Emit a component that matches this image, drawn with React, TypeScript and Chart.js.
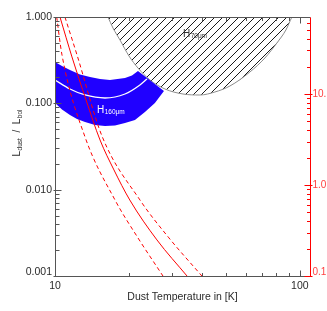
import React, { useEffect, useRef } from 'react';
import { Chart, registerables } from 'chart.js';

Chart.register(...registerables);

// ---------- axis ranges ----------
const tempMin = 10;
const tempMax = 110;
const ratioMin = 0.001;
const ratioMax = 1.0;
const rightMin = 0.1;
const rightMax = 70;

// ---------- ticks ----------
const tempMajor = [10, 100];
const tempMajorLabels = ['10', '100'];
const tempMinor = [20, 30, 40, 50, 60, 70, 80, 90];
const ratioMajor = [0.001, 0.01, 0.1, 1.0];
const ratioMajorLabels = ['0.001', '0.010', '0.100', '1.000'];
const ratioMinor = [
  0.002, 0.003, 0.004, 0.005, 0.006, 0.007, 0.008, 0.009,
  0.02, 0.03, 0.04, 0.05, 0.06, 0.07, 0.08, 0.09,
  0.2, 0.3, 0.4, 0.5, 0.6, 0.7, 0.8, 0.9,
];
const rightMajor = [0.1, 1, 10];
const rightMajorLabels = ['0.1', '1.0', '10.'];
const rightMinor = [0.2, 0.3, 0.4, 0.5, 0.6, 0.7, 0.8, 0.9, 2, 3, 4, 5, 6, 7, 8, 9, 20, 30, 40, 50, 60];

// ---------- red curves (right axis) ----------
const redMidT = [10.48, 11.73, 13.39, 15.27, 17.41, 20.2, 26.08, 34.6];
const redMidV = [70, 25.5, 8.59, 3.12, 1.462, 0.684, 0.249, 0.1];
const redLowT = [10.16, 10.68, 13.26, 17.58, 21.82, 27.6];
const redLowV = [70, 26.8, 3.37, 0.684, 0.262, 0.1];
const redHighT = [10.98, 12.3, 15.55, 22.23, 29.2, 39.8];
const redHighV = [70, 26.8, 3.455, 0.684, 0.262, 0.1];

// ---------- H160 band (left axis): upper edge, cut, lower edge back ----------
const bandT = [
  10, 10.68, 11.51, 12.65, 13.9, 15.27, 16.77, 19.31, 20.62, 21.82,
  27.86, 25.59, 23.3, 21.21, 19.31, 17.58, 16.0, 14.57, 13.26, 12.3, 11.51, 10.68, 10,
];
const bandV = [
  0.301, 0.2707, 0.2434, 0.2158, 0.2019, 0.1913, 0.1864, 0.1966, 0.2101, 0.2369,
  0.1389, 0.1009, 0.0794, 0.0641, 0.0592, 0.0554, 0.0546, 0.0561, 0.0608, 0.0658, 0.0733, 0.0848, 0.1009,
];
const bandCenterT = [10, 11.51, 13.26, 16.0, 19.31, 22.23, 23.74];
const bandCenterV = [0.1864, 0.1466, 0.1249, 0.1153, 0.1283, 0.1632, 0.1913];

// ---------- H70 hatched region lower boundary (left axis) ----------
const hatchT = [16.46, 17.25, 18.42, 20.05, 21.82, 24.42, 28.12, 33.31, 39.07, 44.99, 51.81, 62.51, 71.97, 80.57, 87.68, 92.75];
const hatchV = [1.0, 0.746, 0.542, 0.3535, 0.2567, 0.1864, 0.1466, 0.1283, 0.1249, 0.1353, 0.1588, 0.2307, 0.335, 0.5, 0.707, 1.0];

// ---------- annotation labels ----------
const annMain = ['H', 'H'];
const annSub = ['70μm', '160μm'];
const annT = [33.3, 14.84];
const annV = [0.587, 0.0773];
const annColor = ['#333333', '#ffffff'];

const FONT = '"Liberation Sans", Arial, Helvetica, sans-serif';
const AXIS_GRAY = '#555555';
const TEXT_GRAY = '#2a2a2a';
const RED = '#ff0000';
const RED_TEXT = '#ff4040';

const pts = (xs: number[], ys: number[]) => xs.map((x, i) => ({ x, y: ys[i] }));
const crisp = (v: number) => Math.round(v) + 0.5;

function makeHatch(): CanvasPattern | string {
  const c = document.createElement('canvas');
  c.width = 8;
  c.height = 8;
  const g = c.getContext('2d');
  if (!g) return 'rgba(0,0,0,0.2)';
  g.strokeStyle = '#1a1a1a';
  g.lineWidth = 1;
  g.beginPath();
  g.moveTo(0, 8);
  g.lineTo(8, 0);
  g.moveTo(-1, 1);
  g.lineTo(1, -1);
  g.moveTo(7, 9);
  g.lineTo(9, 7);
  g.stroke();
  return g.createPattern(c, 'repeat') || 'rgba(0,0,0,0.2)';
}

function drawSub(ctx: CanvasRenderingContext2D, main: string, sub: string, x: number, y: number,
  mainSize: number, subSize: number, dy: number) {
  ctx.font = `${mainSize}px ${FONT}`;
  ctx.textAlign = 'left';
  ctx.textBaseline = 'alphabetic';
  ctx.fillText(main, x, y);
  const w = ctx.measureText(main).width;
  ctx.font = `${subSize}px ${FONT}`;
  ctx.fillText(sub, x + w + 0.5, y + dy);
  return w + 0.5 + ctx.measureText(sub).width;
}

const idlAxes = {
  id: 'idlAxes',
  afterDraw(chart: any) {
    const { ctx, chartArea: a } = chart;
    const xs = chart.scales.x;
    const yl = chart.scales.y;
    const yr = chart.scales.y2;
    const L = crisp(a.left);
    const R = crisp(a.right);
    const T = crisp(a.top);
    const B = crisp(a.bottom);
    ctx.save();

    // annotations
    for (let i = 0; i < annMain.length; i++) {
      ctx.fillStyle = annColor[i];
      drawSub(ctx, annMain[i], annSub[i], xs.getPixelForValue(annT[i]), yl.getPixelForValue(annV[i]), 10, 6.5, 1);
    }

    ctx.lineWidth = 1;
    ctx.strokeStyle = AXIS_GRAY;
    ctx.beginPath();
    ctx.moveTo(L, B);
    ctx.lineTo(L, T);
    ctx.lineTo(R, T);
    ctx.moveTo(L, B);
    ctx.lineTo(R, B);
    ctx.stroke();

    ctx.beginPath();
    tempMajor.forEach((v) => {
      const p = crisp(xs.getPixelForValue(v));
      ctx.moveTo(p, B); ctx.lineTo(p, B - 6);
      ctx.moveTo(p, T); ctx.lineTo(p, T + 6);
    });
    tempMinor.forEach((v) => {
      const p = crisp(xs.getPixelForValue(v));
      ctx.moveTo(p, B); ctx.lineTo(p, B - 3.5);
      ctx.moveTo(p, T); ctx.lineTo(p, T + 3.5);
    });
    ratioMajor.forEach((v) => {
      const p = crisp(yl.getPixelForValue(v));
      ctx.moveTo(L - 2, p); ctx.lineTo(L + 6, p);
    });
    ratioMinor.forEach((v) => {
      const p = crisp(yl.getPixelForValue(v));
      ctx.moveTo(L, p); ctx.lineTo(L + 4, p);
    });
    ctx.stroke();

    ctx.strokeStyle = RED;
    ctx.beginPath();
    ctx.moveTo(R, T);
    ctx.lineTo(R, B);
    rightMajor.forEach((v) => {
      const p = crisp(yr.getPixelForValue(v));
      ctx.moveTo(R - 6, p); ctx.lineTo(R + 2, p);
    });
    rightMinor.forEach((v) => {
      const p = crisp(yr.getPixelForValue(v));
      ctx.moveTo(R - 3.5, p); ctx.lineTo(R, p);
    });
    ctx.stroke();

    ctx.font = `10.5px ${FONT}`;
    ctx.fillStyle = TEXT_GRAY;
    ctx.textAlign = 'center';
    ctx.textBaseline = 'middle';
    tempMajor.forEach((v, i) => {
      ctx.fillText(tempMajorLabels[i], xs.getPixelForValue(v), a.bottom + 10.5);
    });
    ctx.textAlign = 'right';
    ratioMajor.forEach((v, i) => {
      const shift = i === 0 ? -3.5 : 0;
      ctx.fillText(ratioMajorLabels[i], a.left - 3, yl.getPixelForValue(v) + shift);
    });
    ctx.fillStyle = RED_TEXT;
    ctx.textAlign = 'left';
    ctx.font = `10px ${FONT}`;
    rightMajor.forEach((v, i) => {
      const shift = i === 0 ? -4 : 0;
      ctx.fillText(rightMajorLabels[i], a.right + 2.5, yr.getPixelForValue(v) + shift);
    });

    ctx.fillStyle = TEXT_GRAY;
    ctx.textAlign = 'center';
    ctx.font = `10.5px ${FONT}`;
    ctx.fillText('Dust Temperature in [K]', (a.left + a.right) / 2, a.bottom + 21.5);

    ctx.save();
    ctx.translate(20, 133);
    ctx.rotate(-Math.PI / 2);
    ctx.font = `10px ${FONT}`;
    const w1 = ctx.measureText('L').width;
    const wSep = ctx.measureText('  /  ').width;
    ctx.font = `6.5px ${FONT}`;
    const wd = ctx.measureText('dust').width;
    const wb = ctx.measureText('bol').width;
    const total = w1 + 0.5 + wd + wSep + w1 + 0.5 + wb;
    let cx = -total / 2;
    ctx.fillStyle = TEXT_GRAY;
    cx += drawSub(ctx, 'L', 'dust', cx, 0, 10, 6.5, 2);
    ctx.font = `10px ${FONT}`;
    ctx.textAlign = 'left';
    ctx.fillText('  /  ', cx, 0);
    cx += wSep;
    drawSub(ctx, 'L', 'bol', cx, 0, 10, 6.5, 2);
    ctx.restore();

    ctx.restore();
  },
};

export default function App() {
  const ref = useRef<HTMLCanvasElement>(null);

  useEffect(() => {
    document.body.style.margin = '0';
    const canvas = ref.current;
    if (!canvas) return;
    const hatch = makeHatch();
    const chart = new Chart(canvas, {
      type: 'line',
      data: {
        datasets: [
          {
            label: 'model',
            data: pts(redMidT, redMidV),
            yAxisID: 'y2',
            borderColor: RED,
            borderWidth: 1,
            pointRadius: 0,
            fill: false,
            cubicInterpolationMode: 'monotone',
            clip: 0,
            order: 0,
          },
          {
            label: 'model low',
            data: pts(redLowT, redLowV),
            yAxisID: 'y2',
            borderColor: RED,
            borderWidth: 1,
            borderDash: [4, 3],
            pointRadius: 0,
            fill: false,
            cubicInterpolationMode: 'monotone',
            clip: 0,
            order: 0,
          },
          {
            label: 'model high',
            data: pts(redHighT, redHighV),
            yAxisID: 'y2',
            borderColor: RED,
            borderWidth: 1,
            borderDash: [4, 3],
            pointRadius: 0,
            fill: false,
            cubicInterpolationMode: 'monotone',
            clip: 0,
            order: 0,
          },
          {
            label: 'H160 centre',
            data: pts(bandCenterT, bandCenterV),
            yAxisID: 'y',
            borderColor: '#ffffff',
            borderWidth: 1.3,
            pointRadius: 0,
            fill: false,
            cubicInterpolationMode: 'monotone',
            clip: 0,
            order: 1,
          },
          {
            label: 'H160',
            data: pts(bandT, bandV),
            yAxisID: 'y',
            borderColor: 'rgba(0,0,0,0)',
            borderWidth: 0,
            backgroundColor: '#2000ff',
            pointRadius: 0,
            fill: 'shape',
            tension: 0,
            clip: 0,
            order: 2,
          },
          {
            label: 'H70',
            data: pts(hatchT, hatchV),
            yAxisID: 'y',
            borderColor: '#8c8c8c',
            borderWidth: 1,
            backgroundColor: hatch as any,
            pointRadius: 0,
            fill: 'end',
            cubicInterpolationMode: 'monotone',
            clip: 0,
            order: 3,
          },
        ] as any,
      },
      options: {
        responsive: false,
        animation: false,
        events: [],
        layout: { padding: { left: 55, right: 17, top: 17, bottom: 35 } },
        plugins: {
          legend: { display: false },
          tooltip: { enabled: false },
        },
        scales: {
          x: { type: 'logarithmic', min: tempMin, max: tempMax, display: false },
          y: { type: 'logarithmic', min: ratioMin, max: ratioMax, display: false },
          y2: { type: 'logarithmic', min: rightMin, max: rightMax, display: false },
        },
      } as any,
      plugins: [idlAxes],
    });
    return () => chart.destroy();
  }, []);

  return (
    <div style={{ width: 327, height: 311, background: '#ffffff' }}>
      <canvas ref={ref} width={327} height={311} style={{ display: 'block', width: 327, height: 311 }} />
    </div>
  );
}
